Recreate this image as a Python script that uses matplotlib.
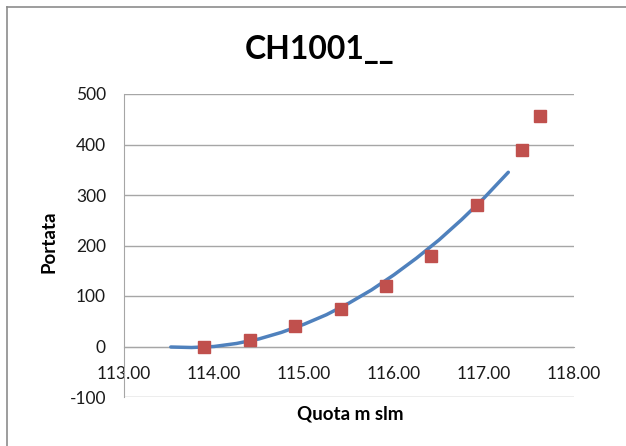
import matplotlib
matplotlib.use("Agg")
import matplotlib.pyplot as plt
from matplotlib.lines import Line2D

# Observed points (red squares)
quota = [113.89, 114.40, 114.90, 115.41, 115.91, 116.41, 116.92, 117.42, 117.62]
portata = [0, 12, 40, 75, 120, 180, 280, 390, 457]

# Trend curve
curve_x = [113.52, 113.75, 114.00, 114.25, 114.50, 114.75, 115.00, 115.25, 115.50,
           115.75, 116.00, 116.25, 116.50, 116.75, 117.00, 117.27]
curve_y = [-1, -2, 0, 6, 15, 28, 44, 63, 86, 112, 142, 175, 211, 251, 294, 345]

x_ticks = [113, 114, 115, 116, 117, 118]
y_ticks = [-100, 0, 100, 200, 300, 400, 500]

W, H = 626, 446
plt.rcParams['font.family'] = ['Lato', 'DejaVu Sans']
plt.rcParams['axes.unicode_minus'] = False
fig = plt.figure(figsize=(W / 100, H / 100), dpi=100)

ax = fig.add_axes([124 / W, 1 - 397 / H, 450 / W, 303 / H])
grid_c = '#a6a6a6'
ax.set_xlim(113, 118)
ax.set_ylim(-100, 500)
ax.set_yticks(y_ticks)
ax.set_xticks(x_ticks)
ax.set_xticklabels([f"{v:.2f}" for v in x_ticks])
ax.yaxis.grid(True, color=grid_c, linewidth=1)
ax.set_axisbelow(True)
for s in ['top', 'right']:
    ax.spines[s].set_visible(False)
ax.spines['bottom'].set_position(('data', 0))
ax.spines['bottom'].set_color(grid_c)
ax.spines['left'].set_color(grid_c)
ax.tick_params(axis='both', length=0, labelsize=12.5, colors='#1a1a1a')
ax.tick_params(axis='x', pad=14)
ax.tick_params(axis='y', pad=13)

ax.plot(curve_x, curve_y, color='#4F81BD', linewidth=2.5, solid_capstyle='round', zorder=3)
ax.plot(quota, portata, linestyle='none', marker='s', markersize=8.5,
        color='#C0504D', markeredgecolor='#C0504D', zorder=4)

fig.text(320 / W, 1 - 49 / H, 'CH1001__', ha='center', va='center',
         fontsize=23, fontweight='bold')
fig.text(350 / W, 1 - 414 / H, 'Quota m slm', ha='center', va='center',
         fontsize=13.5, fontweight='bold')
fig.text(49 / W, 1 - 242 / H, 'Portata', ha='center', va='center',
         fontsize=13.5, fontweight='bold', rotation=90)

# chart frame
fig.add_artist(Line2D([7 / W, 7 / W], [1 - 7 / H, 0], color='#8c8c8c', linewidth=1.2,
                      transform=fig.transFigure))
fig.add_artist(Line2D([7 / W, 1], [1 - 7 / H, 1 - 7 / H], color='#8c8c8c', linewidth=1.2,
                      transform=fig.transFigure))

fig.savefig('out.png', dpi=100)
